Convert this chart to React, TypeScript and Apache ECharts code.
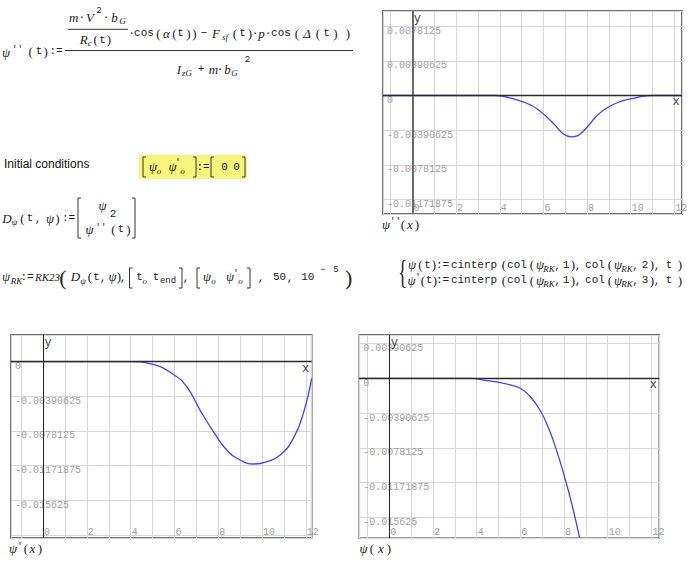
import React, { useEffect, useRef } from 'react';
import * as echarts from 'echarts';

const MONO = '"Liberation Mono", "DejaVu Sans Mono", monospace';
const SERIF = '"Liberation Serif", "DejaVu Serif", serif';
const SANS = '"Liberation Sans", Arial, sans-serif';

// ---------- data ----------
// psi''(x)
const ddX = [-1.35, 0, 1, 2, 3, 3.8, 4.2, 4.6, 5.06, 5.4, 5.67, 6.13, 6.51, 6.82, 7.05, 7.28, 7.5, 7.66, 8.04, 8.42, 8.88, 9.49, 10.1, 10.63, 11, 12, 12.35];
const ddY = [0, 0, 0, 0, 0, 0, -0.00012, -0.00036, -0.00071, -0.00105, -0.00144, -0.00236, -0.00328, -0.00413, -0.00452, -0.00465, -0.00458, -0.00439, -0.00347, -0.00236, -0.00144, -0.00071, -0.00033, -0.00008, 0, 0, 0];
// psi'(x)
const dX = [-1.465, 0, 1, 2, 3, 3.97, 4.97, 5.95, 6.56, 7.17, 7.78, 8.39, 9.0, 9.61, 10.22, 10.83, 11.43, 11.89, 12.27];
const dY = [0, 0, 0, 0, 0, 0, -0.0003, -0.00145, -0.00284, -0.00547, -0.00791, -0.00997, -0.0111, -0.01155, -0.01129, -0.01054, -0.00866, -0.00584, -0.00189];
// psi(x)
const pX = [-1.37, 0, 1, 2, 3, 3.7, 4.47, 5.08, 5.54, 6.0, 6.45, 6.91, 7.29, 7.67, 8.05, 8.36, 8.71];
const pY = [0, 0, 0, 0, 0, 0, -0.00027, -0.00049, -0.00075, -0.00112, -0.00205, -0.00362, -0.00559, -0.00819, -0.01132, -0.01417, -0.0179];

const xTickLabels = ['0', '2', '4', '6', '8', '10', '12'];
const yLabelsDD = ['0.0078125', '0.00390625', '0', '-0.00390625', '-0.0078125', '-0.01171875'];
const yLabelsD = ['0', '-0.00390625', '-0.0078125', '-0.01171875', '-0.015625'];
const yLabelsP = ['0.00390625', '0', '-0.00390625', '-0.0078125', '-0.01171875', '-0.015625'];

const xRangeDD = [-1.35, 12.35];
const yRangeDD = [-0.01334, 0.00951];
const xRangeD = [-1.465, 12.27];
const yRangeD = [-0.01989, 0.00299];
const xRangeP = [-1.37, 12.36];
const yRangeP = [-0.01799, 0.00487];

const Y_STEP = 0.00390625;

// ---------- layout ----------
const plots = [
  { grid: { left: 383, top: 11, width: 299, height: 203 }, xs: ddX, ys: ddY, xr: xRangeDD, yr: yRangeDD, yl: yLabelsDD, vCol: '#6a6a6a', vW: 2 },
  { grid: { left: 11, top: 335, width: 300.7, height: 203 }, xs: dX, ys: dY, xr: xRangeD, yr: yRangeD, yl: yLabelsD, vCol: '#222', vW: 1 },
  { grid: { left: 359.3, top: 335, width: 300, height: 203.3 }, xs: pX, ys: pY, xr: xRangeP, yr: yRangeP, yl: yLabelsP, vCol: '#222', vW: 1 },
];

type St = { f: string; s: number; it?: boolean; c?: string };
const S: Record<string, St> = {
  m: { f: MONO, s: 11 },
  pr: { f: MONO, s: 9 },
  fn: { f: MONO, s: 11 },
  v: { f: SERIF, s: 13, it: true },
  v11: { f: SERIF, s: 11, it: true },
  sb: { f: SERIF, s: 9, it: true },
  sbm: { f: MONO, s: 9 },
  sp: { f: MONO, s: 9 },
  p: { f: SERIF, s: 13 },
  P: { f: SERIF, s: 22 },
  ar: { f: SANS, s: 12, c: '#111' },
  br: { f: SERIF, s: 33 },
  ax: { f: MONO, s: 12, c: '#444' },
};

function T(x: number, y: number, text: string, key: string, align = 'center', extra: any = {}): any {
  const st = S[key];
  return {
    type: 'text', x, y, silent: true, z: 100, ...extra,
    style: {
      text, fontFamily: st.f, fontSize: st.s, fontStyle: st.it ? 'italic' : 'normal',
      fill: st.c ?? '#222', textAlign: align, align, textVerticalAlign: 'middle', verticalAlign: 'middle',
    },
  };
}
function B(x: number, y1: number, y2: number, dir: number): any {
  return {
    type: 'polyline', silent: true, z: 100,
    shape: { points: [[x + 3 * dir, y1], [x, y1], [x, y2], [x + 3 * dir, y2]] },
    style: { stroke: '#333', lineWidth: 1, fill: null },
  };
}
function L(x1: number, y1: number, x2: number, y2: number): any {
  return { type: 'line', silent: true, z: 100, shape: { x1, y1, x2, y2 }, style: { stroke: '#333', lineWidth: 1 } };
}

type Tok = [number, number, string, string];
const F1: Tok[] = [
  [6, 52, 'ψ', 'v'], [17.5, 50, "''", 'pr'], [30.7, 51, '(', 'p'], [39, 51, 't', 'm'], [45.7, 51, ')', 'p'], [56, 51, ':=', 'm'],
  [73.7, 17, 'm', 'v'], [81.7, 17, '·', 'm'], [90, 17, 'V', 'v'], [99, 11, '2', 'sp'], [106, 17, '·', 'm'], [114.5, 17, 'b', 'v'], [122.5, 21, 'G', 'sb'],
  [83.7, 39.5, 'R', 'v'], [89.7, 42.5, 'c', 'sb'], [95.7, 39.5, '(', 'p'], [102.5, 39.5, 't', 'm'], [109, 39.5, ')', 'p'],
  [131.7, 33, '·', 'm'], [144, 33, 'cos', 'm'], [158.5, 33, '(', 'p'], [166.5, 33, 'α', 'v'], [174.5, 33, '(', 'p'], [180.5, 33, 't', 'm'], [188.5, 33, ')', 'p'], [194.5, 33, ')', 'p'],
  [204, 33, '−', 'm'], [216, 33, 'F', 'v'], [225, 37, 'sf', 'sb'], [235, 33, '(', 'p'], [242.5, 33, 't', 'm'], [250, 33, ')', 'p'], [255, 33, '·', 'm'], [261.5, 33, 'p', 'v'], [268, 33, '·', 'm'],
  [281, 33, 'cos', 'm'], [297, 33, '(', 'p'], [307, 33, 'Δ', 'v'], [318, 33, '(', 'p'], [326.5, 33, 't', 'm'], [335.5, 33, ')', 'p'], [348, 33, ')', 'p'],
  [179, 69, 'I', 'v'], [187, 73, 'zG', 'sb'], [201, 69, '+', 'm'], [213.5, 69, 'm', 'v'], [220, 69, '·', 'm'], [227.5, 69, 'b', 'v'], [234.5, 73, 'G', 'sb'], [247.5, 60, '2', 'sp'],
];
const F2: Tok[] = [
  [153, 166, 'ψ', 'v'], [159, 171, 'o', 'sb'], [172.5, 166, 'ψ', 'v'], [178, 163, "'", 'pr'], [182.5, 171, 'o', 'sb'],
  [203, 167, ':=', 'm'], [224.5, 167, '0', 'm'], [236.5, 167, '0', 'm'],
];
const F3: Tok[] = [
  [7, 218.3, 'D', 'v'], [14.5, 222, 'ψ', 'sb'], [22.5, 218.3, '(', 'p'], [30, 218.3, 't', 'm'], [38, 219, ',', 'm'], [50, 218.3, 'ψ', 'v'], [57.5, 218.3, ')', 'p'], [68.5, 218.3, ':=', 'm'],
  [102.5, 205, 'ψ', 'v'], [113, 214.3, '2', 'm'],
  [89.5, 229.3, 'ψ', 'v'], [101, 228, "''", 'pr'], [113.5, 229.3, '(', 'p'], [121, 229.3, 't', 'm'], [128.5, 229.3, ')', 'p'],
];
const F4: Tok[] = [
  [6, 276.7, 'ψ', 'v'], [16.5, 281, 'RK', 'sb'], [27, 276.7, ':=', 'm'], [47.5, 276.7, 'RK23', 'v11'], [63, 277, '(', 'P'],
  [75.5, 276.7, 'D', 'v'], [83, 281, 'ψ', 'sb'], [90, 276.7, '(', 'p'], [96.5, 276.7, 't', 'm'], [103, 277.5, ',', 'm'], [112.5, 276.7, 'ψ', 'v'], [119, 276.7, ')', 'p'], [123, 277.5, ',', 'm'],
  [139.5, 276.7, 't', 'm'], [144.7, 281, 'o', 'sb'], [156, 276.7, 't', 'm'], [168, 281, 'end', 'sbm'], [186, 277.5, ',', 'm'],
  [207, 276.7, 'ψ', 'v'], [213.5, 281, 'o', 'sb'], [230, 276.7, 'ψ', 'v'], [236, 274, "'", 'pr'], [240.5, 281, 'o', 'sb'], [261, 277.5, ',', 'm'],
  [279.5, 276.7, '50', 'm'], [290, 277.5, ',', 'm'], [307.8, 276.7, '10', 'm'], [323, 270, '−', 'sp'], [336, 270, '5', 'sp'], [348.7, 277, ')', 'P'],
];
function cLine(y: number, prime: boolean, n: string): Tok[] {
  const head: Tok[] = prime
    ? [[411.5, y, 'ψ', 'v'], [418, y - 2, "'", 'pr'], [423, y, '(', 'p'], [429, y, 't', 'm'], [435, y, ')', 'p']]
    : [[412, y, 'ψ', 'v'], [420.5, y, '(', 'p'], [427.5, y, 't', 'm'], [434, y, ')', 'p']];
  return [
    ...head,
    [442.5, y, ':=', 'm'], [474, y, 'cinterp', 'fn'], [504, y, '(', 'p'], [517, y, 'col', 'fn'], [532, y, '(', 'p'], [540, y, 'ψ', 'v'], [549, y + 4, 'RK', 'sb'],
    [557.5, y + 1, ',', 'm'], [566, y, '1', 'm'], [573, y, ')', 'p'], [578, y + 1, ',', 'm'], [595, y, 'col', 'fn'], [610, y, '(', 'p'], [618, y, 'ψ', 'v'],
    [627, y + 4, 'RK', 'sb'], [635.5, y + 1, ',', 'm'], [645, y, n, 'm'], [652, y, ')', 'p'], [657, y + 1, ',', 'm'], [669, y, 't', 'm'], [680, y, ')', 'p'],
  ];
}
const F5: Tok[] = [...cLine(264.5, false, '2'), ...cLine(280, true, '3')];
const FL: Tok[] = [
  [386, 224, 'ψ', 'v'], [395.5, 222, "''", 'pr'], [403, 224, '(', 'p'], [410, 224, 'x', 'v'], [417, 224, ')', 'p'],
  [13, 548.3, 'ψ', 'v'], [20, 546.5, "'", 'pr'], [26, 548.3, '(', 'p'], [32.5, 548.3, 'x', 'v'], [40, 548.3, ')', 'p'],
  [363.5, 548.3, 'ψ', 'v'], [372, 548.3, '(', 'p'], [381, 548.3, 'x', 'v'], [389, 548.3, ')', 'p'],
];

function fmt(v: number) { return String(+v.toFixed(10)); }

function buildOption(): any {
  return {
    animation: false,
    backgroundColor: '#ffffff',
    grid: plots.map((p) => ({
      ...p.grid, show: true, borderColor: '#404040', borderWidth: 1.5, backgroundColor: 'transparent',
      containLabel: false, outerBoundsMode: 'none',
    })),
    xAxis: plots.map((p, i) => ({
      type: 'value', gridIndex: i, min: p.xr[0], max: p.xr[1], minInterval: 1, maxInterval: 1,
      axisLine: { show: false }, axisTick: { show: false },
      splitLine: { show: true, lineStyle: { color: '#d6d6d6', width: 1 } },
      axisLabel: {
        inside: true, margin: 1, align: 'left', padding: [0, 0, 0, 1], color: '#a0a0a0', fontFamily: MONO, fontSize: 10,
        formatter: (v: number) => { const s = String(+v.toFixed(6)); return xTickLabels.includes(s) ? s : ''; },
      },
    })),
    yAxis: plots.map((p, i) => ({
      type: 'value', gridIndex: i, min: p.yr[0], max: p.yr[1], minInterval: Y_STEP, maxInterval: Y_STEP,
      axisLine: { show: false }, axisTick: { show: false },
      splitLine: { show: true, lineStyle: { color: '#d6d6d6', width: 1 } },
      axisLabel: {
        inside: true, margin: 4, verticalAlign: 'top', color: '#a0a0a0', fontFamily: MONO, fontSize: 10,
        formatter: (v: number) => { const s = fmt(v); return p.yl.includes(s) ? s : ''; },
      },
    })),
    series: plots.flatMap((p, i) => [
      {
        type: 'line', xAxisIndex: i, yAxisIndex: i, data: [[0, 0]], symbol: 'none', showSymbol: false,
        lineStyle: { opacity: 0 }, silent: true, z: 1,
        markLine: {
          silent: true, symbol: ['none', 'none'], label: { show: false }, animation: false,
          emphasis: { disabled: true },
          data: [
            { xAxis: 0, lineStyle: { color: p.vCol, width: p.vW, type: 'solid' } },
            { yAxis: 0, lineStyle: { color: '#2a2a2a', width: 1.3, type: 'solid' } },
          ],
        },
      },
      {
        type: 'line', xAxisIndex: i, yAxisIndex: i, z: 3, symbol: 'none', showSymbol: false, clip: true,
        smooth: 0.5,
        lineStyle: { color: '#4040ff', width: 1.3 },
        data: p.xs.map((x, k) => [x, p.ys[k]]),
      },
    ]),
  };
}

export default function App() {
  const ref = useRef<HTMLDivElement>(null);
  useEffect(() => {
    const chart = echarts.init(ref.current!, null, { renderer: 'svg' });
    chart.setOption(buildOption());
    const els: any[] = [];
    els.push({ type: 'rect', silent: true, z: 90, shape: { x: 139, y: 155, width: 108, height: 24 }, style: { fill: '#f8f57c' } });
    els.push(L(65, 50.5, 353, 50.5), L(68, 29.3, 128, 29.3));
    els.push(B(143, 157, 177, 1), B(196, 157, 177, -1), B(211, 157, 177, 1), B(245, 157, 177, -1));
    els.push(B(78, 198, 238, 1), B(135, 198, 238, -1));
    els.push(B(129.5, 268, 288, 1), B(182, 268, 288, -1), B(197, 268, 288, 1), B(250, 268, 288, -1));
    [...F1, ...F2, ...F3, ...F4, ...F5, ...FL].forEach((t) => els.push(T(t[0], t[1], t[2], t[3])));
    els.push(T(402.5, 271.5, '{', 'br', 'center', { scaleX: 0.55 }));
    els.push(T(4, 164, 'Initial conditions', 'ar', 'left'));
    plots.forEach((p, i) => {
      const o = chart.convertToPixel({ gridIndex: i } as any, [0, 0]) as number[];
      const r = chart.convertToPixel({ gridIndex: i } as any, [p.xr[1], p.yr[1]]) as number[];
      els.push(T(r[0] - 6, o[1] + 7, 'x', 'ax'));
      els.push(T(o[0] + 5, r[1] + 8, 'y', 'ax'));
    });
    chart.setOption({ graphic: { elements: els } });
    return () => chart.dispose();
  }, []);
  return <div ref={ref} style={{ position: 'fixed', left: 0, top: 0, width: 690, height: 563 }} />;
}
